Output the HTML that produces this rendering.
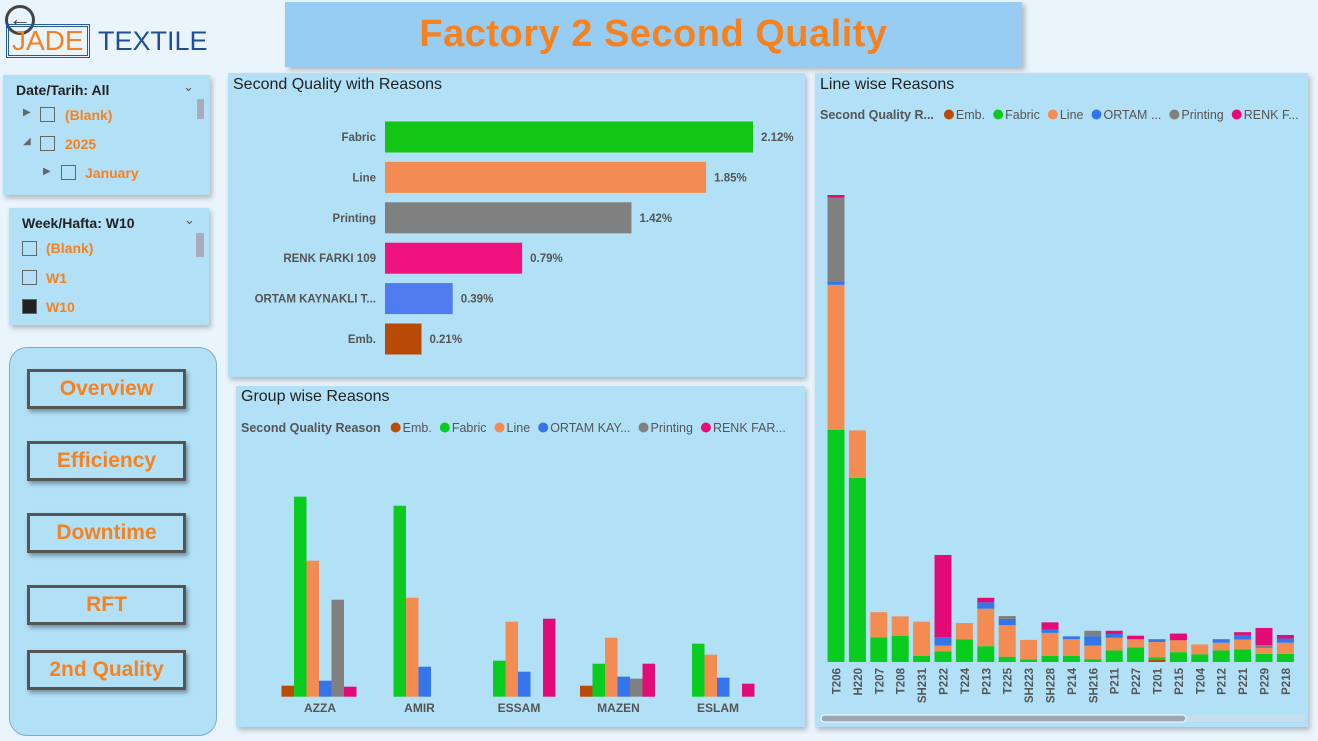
<!DOCTYPE html>
<html><head><meta charset="utf-8"><style>
*{box-sizing:border-box;margin:0;padding:0}
body{width:1318px;height:741px;overflow:hidden;background:#eaf4fc;font-family:"Liberation Sans","DejaVu Sans",sans-serif;position:relative}
.abs{position:absolute}
.panel{position:absolute;background:#b2e1f7;box-shadow:2px 3px 5px rgba(0,0,0,.25)}
.ttl{position:absolute;font-size:16px;color:#222}
.slv{position:absolute;font-size:14px;font-weight:bold;color:#f5821f}
.cb{position:absolute;width:15px;height:15px;border:1px solid #666;background:transparent}
.btn{position:absolute;left:27px;width:159px;height:40px;border:3px solid #555;box-shadow:2px 3px 4px rgba(0,0,0,.35);background:#b2e1f7;color:#f5821f;font-weight:bold;font-size:21px;text-align:center;line-height:34px}
svg text{font-family:"Liberation Sans","DejaVu Sans",sans-serif}
</style></head><body>
<div class="abs" style="left:5px;top:5px;width:30px;height:30px;border:3px solid #444;border-radius:50%;font-size:22px;line-height:22px;text-align:center;color:#444">&#8592;</div>
<div class="abs" style="left:6px;top:24px;width:200px;height:36px">
 <span style="position:absolute;left:0;top:0;border:3px double #2a5a9a;padding:0 3px;font-size:28px;color:#f5821f;line-height:28px">JADE</span>
 <span style="position:absolute;left:92px;top:3px;font-size:27px;color:#1f4f96;line-height:28px">TEXTILE</span>
</div>
<div class="abs" style="left:285px;top:2px;width:737px;height:65px;background:#98cdf3;box-shadow:3px 3px 5px rgba(0,0,0,.25);text-align:center;font-size:38px;font-weight:bold;color:#f5821f;line-height:65px;letter-spacing:0.5px">Factory 2 Second Quality</div>

<div class="panel" style="left:3px;top:75px;width:207px;height:120px">
 <div class="abs" style="left:13px;top:7px;font-size:14px;font-weight:bold;color:#222">Date/Tarih: All</div>
 <div class="abs" style="left:180px;top:4px;font-size:13px;color:#555">&#8964;</div>
 <div class="abs" style="left:194px;top:24px;width:7px;height:20px;background:#aab"></div>
 <div class="abs" style="left:20px;top:32px;font-size:10px;color:#666">&#9654;</div><div class="cb" style="left:37px;top:32px"></div><div class="slv" style="left:62px;top:32px">(Blank)</div>
 <div class="abs" style="left:20px;top:61px;font-size:10px;color:#666">&#9698;</div><div class="cb" style="left:37px;top:61px"></div><div class="slv" style="left:62px;top:61px">2025</div>
 <div class="abs" style="left:40px;top:91px;font-size:10px;color:#666">&#9654;</div><div class="cb" style="left:58px;top:90px"></div><div class="slv" style="left:82px;top:90px">January</div>
</div>
<div class="panel" style="left:9px;top:208px;width:200px;height:117px">
 <div class="abs" style="left:13px;top:7px;font-size:14px;font-weight:bold;color:#222">Week/Hafta: W10</div>
 <div class="abs" style="left:175px;top:4px;font-size:13px;color:#555">&#8964;</div>
 <div class="abs" style="left:187px;top:25px;width:8px;height:24px;background:#aab"></div>
 <div class="cb" style="left:13px;top:33px"></div><div class="slv" style="left:37px;top:32px">(Blank)</div>
 <div class="cb" style="left:13px;top:62px"></div><div class="slv" style="left:37px;top:62px">W1</div>
 <div class="cb" style="left:13px;top:91px;background:#222"></div><div class="slv" style="left:37px;top:91px">W10</div>
</div>
<div class="abs" style="left:9px;top:347px;width:208px;height:389px;background:#b2e1f7;border:1px solid #7aaed0;border-radius:18px"></div>
<div class="btn" style="top:369px">Overview</div>
<div class="btn" style="top:441px">Efficiency</div>
<div class="btn" style="top:513px">Downtime</div>
<div class="btn" style="top:585px">RFT</div>
<div class="btn" style="top:650px">2nd Quality</div>

<div class="panel" style="left:228px;top:73px;width:577px;height:304px"><div class="ttl" style="left:5px;top:3px">Second Quality with Reasons</div></div>
<svg class="abs" style="left:0;top:0" width="1318" height="741" id="s1"></svg>

<div class="panel" style="left:236px;top:386px;width:569px;height:341px"><div class="ttl" style="left:5px;top:2px">Group wise Reasons</div></div>
<div class="panel" style="left:815px;top:73px;width:493px;height:654px"><div class="ttl" style="left:5px;top:3px">Line wise Reasons</div></div>
<svg class="abs" style="left:0;top:0" width="1318" height="741" id="s2"></svg>

<script>
const reasons=["Fabric","Line","Printing","RENK FARKI 109","ORTAM KAYNAKLI T...","Emb."];
const reasonVals=[2.12,1.85,1.42,0.79,0.39,0.21];
const reasonColors=["#12c515","#f28c52","#808080","#f0127f","#4f7bef","#b94a06"];
const seriesNames=["Emb.","Fabric","Line","ORTAM KAY...","Printing","RENK FAR..."];
const seriesColors=["#bb4a07","#0acb20","#f28c52","#3575ec","#808080","#e20b77"];
const groups=["AZZA","AMIR","ESSAM","MAZEN","ESLAM"];
const gEmb=[11,0,0,11,0];
const gFabric=[200,191,36,33,53];
const gLine=[136,99,75,59,42];
const gOrtam=[16,30,25,20,19];
const gPrinting=[97,0,0,18,0];
const gRenk=[10,0,78,33,13];
const lines=["T206","H220","T207","T208","SH231","P222","T224","P213","T225","SH223","SH228","P214","SH216","P211","P227","T201","P215","T204","P212","P221","P229","P218"];
const lEmb=[0,0,0,0,0,0,0,0,0,0,0,0,0,0,0,6,0,0,0,0,0,0];
const lFabric=[662,525,70,75,18,30,65,45,15,7,18,17,8,33,42,7,28,22,33,36,23,23];
const lLine=[413,135,72,55,97,17,46,107,90,56,65,48,39,36,23,44,34,28,22,28,17,32];
const lOrtam=[10,0,0,0,0,24,0,18,18,0,9,8,26,11,0,8,0,0,10,13,0,12];
const lPrinting=[238,0,0,0,0,0,0,0,8,0,0,0,16,0,0,0,0,0,0,0,8,0];
const lRenk=[8,0,0,0,0,234,0,13,0,0,21,0,0,9,10,0,19,0,0,8,49,10];
const NS="http://www.w3.org/2000/svg";
function mk(svg,tag,a,txt){const e=document.createElementNS(NS,tag);for(const k in a)e.setAttribute(k,a[k]);if(txt!==undefined)e.textContent=txt;svg.appendChild(e);return e;}
const s1=document.getElementById('s1'),s2=document.getElementById('s2');
const x1=v=>385+v*(368/2.12);
reasonVals.forEach((v,i)=>{const cy=137+i*40.4;
 let r=mk(s1,'rect',{x:385,y:cy-15.5,width:x1(v)-385,height:31,fill:reasonColors[i]});
 
 
 let t=mk(s1,'text',{x:376,y:cy+4,'text-anchor':'end','font-size':11.5,'font-weight':'bold',fill:'#555'},reasons[i]);
 
 
 let l=mk(s1,'text',{x:x1(v)+8,y:cy+4,'font-size':11.5,'font-weight':'bold',fill:'#555'},v.toFixed(2)+'%');
 
 
});
function legend(svg,x,y,title,names,gap){
 let t=mk(svg,'text',{x:x,y:y,'font-size':12.5,'font-weight':'bold',fill:'#555'},title);
 
 
 let cx=x+t.getComputedTextLength()+10;
 names.forEach((n,i)=>{mk(svg,'circle',{cx:cx+5,cy:y-4.5,r:5,fill:seriesColors[i]});
  let lt=mk(svg,'text',{x:cx+12,y:y,'font-size':12.5,fill:'#555'},n);
  
  
  cx+=12+lt.getComputedTextLength()+gap;});
}
legend(s2,241,432,'Second Quality Reason',seriesNames,8);
legend(s2,820,119,'Second Quality R...',["Emb.","Fabric","Line","ORTAM ...","Printing","RENK F..."],8);
const gSeries=[gEmb,gFabric,gLine,gOrtam,gPrinting,gRenk];
const base2=696.7,yk2=1.0,bw2=12.5;
groups.forEach((g,gi)=>{const cx=319+gi*99.5;
 gSeries.forEach((arr,si)=>{const v=arr[gi];if(!v)return;
  let r=mk(s2,'rect',{x:cx-3*bw2+si*bw2,y:base2-v*yk2,width:bw2,height:v*yk2,fill:seriesColors[si]});
  
  });
 let t=mk(s2,'text',{x:cx+1,y:712,'text-anchor':'middle','font-size':12,'font-weight':'bold',fill:'#555'},g);
 
 
});
const lSeries=[lEmb,lFabric,lLine,lOrtam,lPrinting,lRenk];
const stackOrder=[0,1,2,3,4,5];
const base3=662,yk3=467/1331;
lines.forEach((n,i)=>{const cx=836+i*21.4;let acc=0;
 stackOrder.forEach(si=>{const v=lSeries[si][i];if(!v)return;
  let r=mk(s2,'rect',{x:cx-8.5,y:base3-(acc+v)*yk3,width:17,height:v*yk3,fill:seriesColors[si]});
  
  
  acc+=v;});
 let t=mk(s2,'text',{x:0,y:0,transform:`translate(${cx+4.5},${668}) rotate(-90)`,'text-anchor':'end','font-size':11.5,'font-weight':'bold',fill:'#555'},n);
 
 
});
let sb=mk(s2,'rect',{x:821,y:715,width:484,height:7,rx:3.5,fill:'#c7dfea'});


let th=mk(s2,'rect',{x:821,y:715,width:365,height:7,rx:3.5,fill:'#9aa8b3',stroke:'#fff','stroke-width':1});


</script>
</body></html>
